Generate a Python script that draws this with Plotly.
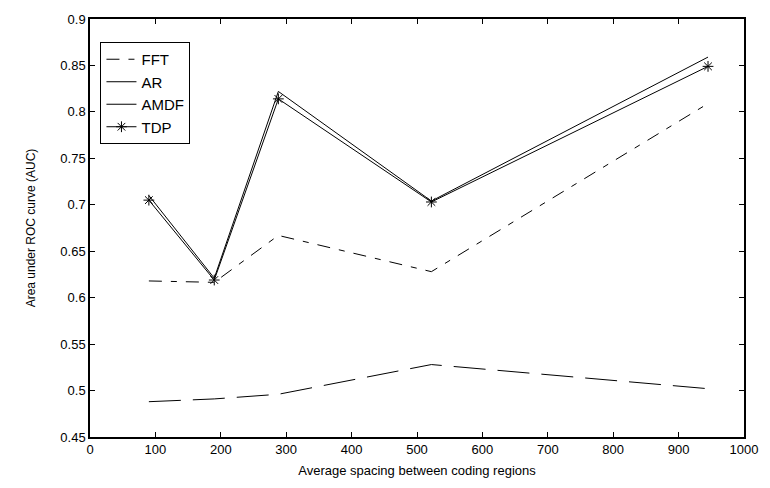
import plotly.graph_objects as go

x_vals = [90, 190, 288, 522, 945]
fft = [0.618, 0.6165, 0.667, 0.628, 0.809]
ar = [0.488, 0.491, 0.496, 0.528, 0.502]
amdf = [0.710, 0.621, 0.822, 0.704, 0.859]
tdp = [0.705, 0.619, 0.814, 0.703, 0.849]

x_ticks = [0, 100, 200, 300, 400, 500, 600, 700, 800, 900, 1000]
y_ticks = [0.45, 0.5, 0.55, 0.6, 0.65, 0.7, 0.75, 0.8, 0.85, 0.9]
y_tick_text = ["0.45", "0.5", "0.55", "0.6", "0.65", "0.7", "0.75", "0.8", "0.85", "0.9"]

fig = go.Figure()
fig.add_trace(go.Scatter(x=x_vals, y=fft, mode="lines", name="FFT",
                         line=dict(color="black", width=1, dash="13px,9px,6px,9px")))
fig.add_trace(go.Scatter(x=x_vals, y=ar, mode="lines", name="AR",
                         line=dict(color="black", width=1, dash="32px,12px")))
fig.add_trace(go.Scatter(x=x_vals, y=amdf, mode="lines", name="AMDF",
                         line=dict(color="black", width=1)))
fig.add_trace(go.Scatter(x=x_vals, y=tdp, mode="lines+markers", name="TDP",
                         line=dict(color="black", width=1),
                         marker=dict(symbol="asterisk-open", size=9,
                                     line=dict(color="black", width=1))))

axis_common = dict(showgrid=False, zeroline=False, showline=True, linecolor="black",
                   linewidth=1.5, mirror="ticks", ticks="inside", ticklen=5,
                   tickcolor="black", tickwidth=1,
                   tickfont=dict(family="Liberation Sans, Arial", size=13, color="black"))

fig.update_xaxes(range=[0, 1000], tickvals=x_ticks,
                 title=dict(text="Average spacing between coding regions",
                            font=dict(family="Liberation Sans, Arial", size=13, color="black"),
                            standoff=10),
                 **axis_common)
fig.update_yaxes(range=[0.45, 0.9], tickvals=y_ticks, ticktext=y_tick_text,
                 title=dict(text="Area under ROC curve (AUC)",
                            font=dict(family="Liberation Sans, Arial", size=12, color="black"),
                            standoff=22),
                 **axis_common)

fig.update_layout(
    width=770, height=488,
    margin=dict(l=90, r=24, t=16, b=48),
    paper_bgcolor="white", plot_bgcolor="white",
    font=dict(family="Liberation Sans, Arial", color="black"),
    legend=dict(x=0.016, y=0.945, xanchor="left", yanchor="top",
                bgcolor="white", bordercolor="black", borderwidth=1,
                font=dict(family="Liberation Sans, Arial", size=15, color="black"),
                tracegroupgap=0, itemwidth=30),
    showlegend=True,
)

fig.write_html("out.html")
